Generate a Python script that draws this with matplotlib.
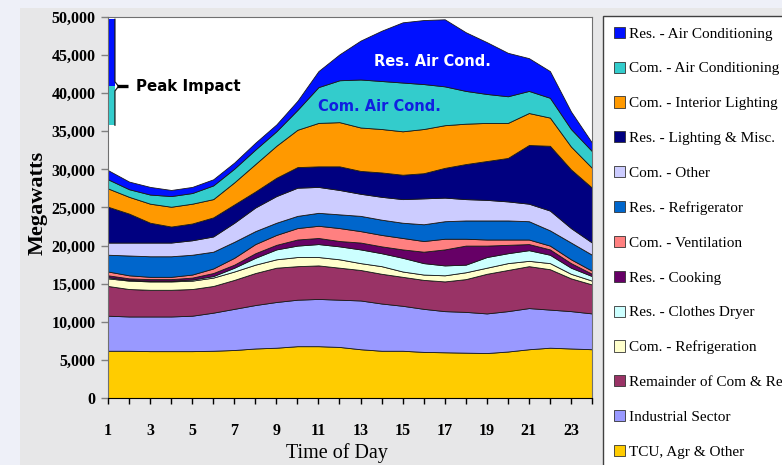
import matplotlib.pyplot as plt
from matplotlib.patches import Rectangle, Patch
import numpy as np

hours = list(range(1, 25))

# hourly load by end use, MW (stacked bottom to top)
tcu = [6200, 6200, 6150, 6150, 6150, 6200, 6300, 6500, 6600, 6800, 6800, 6700,
       6400, 6200, 6200, 6050, 6000, 5950, 5900, 6100, 6400, 6600, 6500, 6400]
industrial = [4600, 4500, 4550, 4550, 4650, 5000, 5400, 5700, 6000, 6100, 6200, 6200,
              6400, 6200, 5900, 5650, 5400, 5350, 5200, 5300, 5400, 5000, 4900, 4700]
remainder = [3900, 3600, 3500, 3500, 3500, 3500, 3800, 4200, 4500, 4400, 4400, 4200,
             4000, 3900, 3800, 3800, 3900, 4300, 5200, 5400, 5500, 5300, 4300, 3800]
com_refrig = [1000, 1100, 1100, 1100, 1100, 1100, 1100, 1100, 1100, 1200, 1100, 1100,
              900, 1000, 700, 700, 800, 900, 800, 900, 700, 800, 600, 500]
res_dryer = [150, 100, 100, 100, 150, 200, 500, 900, 1300, 1500, 1700, 1700,
             1800, 1700, 1800, 1500, 1300, 1000, 1400, 1300, 1400, 1100, 800, 600]
res_cooking = [250, 200, 200, 200, 250, 400, 400, 600, 600, 800, 800, 700,
               900, 900, 1100, 1500, 2100, 2500, 1500, 1100, 800, 700, 600, 300]
com_vent = [500, 400, 300, 300, 400, 600, 900, 1200, 1300, 1500, 1600, 1700,
            1500, 1500, 1500, 1400, 1400, 900, 800, 700, 600, 500, 500, 400]
res_refrig = [2200, 2600, 2700, 2700, 2600, 2200, 2100, 1700, 1600, 1600, 1700, 1800,
              2000, 2000, 2000, 2200, 2300, 2400, 2500, 2500, 2400, 2000, 2200, 2100]
com_other = [1600, 1700, 1800, 1800, 1900, 2000, 2500, 3100, 3500, 3700, 3400, 3200,
             2900, 3000, 3100, 3400, 3100, 2800, 2700, 2500, 2300, 2600, 1900, 1600]
res_lighting = [4700, 3800, 2600, 2100, 2200, 2500, 2400, 2100, 2400, 2700, 2700, 3100,
                3000, 3200, 3200, 3300, 3900, 4600, 5100, 5700, 7700, 8500, 7700, 7200]
com_lighting = [2400, 2200, 2500, 2600, 2600, 2400, 2900, 3600, 4200, 4900, 5700, 5800,
                5700, 5700, 5700, 5800, 5600, 5300, 5000, 4600, 4200, 3700, 3000, 2600]
com_ac = [1200, 1000, 1200, 1400, 1400, 1800, 1800, 1900, 1900, 2600, 4700, 5500,
          6300, 6300, 6400, 5900, 5100, 4300, 3800, 3500, 2900, 2600, 2300, 2200]
res_ac = [1200, 1000, 1000, 800, 800, 800, 800, 900, 900, 1200, 2100, 3400,
          5100, 6600, 7900, 8400, 8800, 7700, 6800, 5700, 4300, 3500, 2300, 1100]

labels = ["TCU, Agr & Other", "Industrial Sector", "Remainder of Com & Res",
          "Com. - Refrigeration", "Res. - Clothes Dryer", "Res. - Cooking",
          "Com. - Ventilation", "Res. - Refrigerator", "Com. - Other",
          "Res. - Lighting & Misc.", "Com. - Interior Lighting",
          "Com. - Air Conditioning", "Res. - Air Conditioning"]
colors = ["#ffcc00", "#9999ff", "#993366", "#ffffcc", "#ccffff", "#660066",
          "#ff8080", "#0066cc", "#ccccff", "#000080", "#ff9900", "#33cccc", "#0010ff"]
series = [tcu, industrial, remainder, com_refrig, res_dryer, res_cooking, com_vent,
          res_refrig, com_other, res_lighting, com_lighting, com_ac, res_ac]

fig = plt.figure(figsize=(7.82, 4.65), dpi=100)
fig.patch.set_facecolor("#eef0f8")
fig.patches.append(Rectangle((20 / 782, 0), 1, 1 - 8 / 465, transform=fig.transFigure,
                             facecolor="#e7e7e8", edgecolor="none", zorder=-5))

ax = fig.add_axes([108 / 782, 1 - 398 / 465, 484 / 782, 381 / 465], zorder=2)
ax.set_facecolor("white")
ax.stackplot(hours, series, colors=colors, edgecolor="#1a1a1a", linewidth=0.6)

# peak impact column: the air-conditioning share of the daily peak
total = np.sum(series, axis=0)
pk = int(np.argmax(total))
top = total[pk]
mid = top - res_ac[pk]
low = mid - com_ac[pk]
ax.bar(1.05, res_ac[pk], width=0.28, bottom=mid, align="edge", color="#0010ff", zorder=3)
ax.bar(1.05, com_ac[pk], width=0.28, bottom=low, align="edge", color="#33cccc", zorder=3)
ax.plot([1.33, 1.33, 1.5, 1.33, 1.33], [top, mid + 600, mid, mid - 600, low],
        color="#1a1a1a", lw=0.9, zorder=4)
ax.plot([1.45, 1.95], [mid, mid], color="black", lw=2.4, zorder=4, solid_capstyle="butt")
ax.text(2.35, mid, "Peak Impact", fontsize=10.8, fontweight="bold", family="DejaVu Sans",
        va="center", ha="left")

ax.text(16.4, 44200, "Res. Air Cond.", color="white", fontsize=10.5, fontweight="bold",
        family="DejaVu Sans", ha="center", va="center")
ax.text(13.9, 38300, "Com. Air Cond.", color="#1020e0", fontsize=10.5, fontweight="bold",
        family="DejaVu Sans", ha="center", va="center")

ax.set_xlim(1, 24)
ax.set_ylim(0, 50000)
ax.set_xticks(hours)
ax.set_xticklabels([str(h) if h % 2 else "" for h in hours])
ax.set_yticks(range(0, 50001, 5000))
ax.set_yticklabels([f"{v:,}" for v in range(0, 50001, 5000)])
for t in ax.get_xticklabels() + ax.get_yticklabels():
    t.set_family("Liberation Serif")
    t.set_fontweight("bold")
    t.set_fontsize(11.5)
ax.tick_params(axis="x", direction="out", length=4, width=1, colors="black", pad=14)
ax.tick_params(axis="y", direction="out", length=5, width=1, color="#808080",
               labelcolor="black", pad=4)
for side in ["top", "right", "left"]:
    ax.spines[side].set_color("#707070")
ax.spines["bottom"].set_color("black")

ax.set_ylabel("Megawatts", family="Liberation Serif", fontweight="bold", fontsize=16)
ax.yaxis.set_label_coords(-(108 - 48) / 484, (398 - 203) / 381)
ax.set_xlabel("Time of Day", family="Liberation Serif", fontsize=14.5)
ax.xaxis.set_label_coords((337 - 108) / 484, -(443 - 398) / 381)

handles = [Patch(facecolor=c, edgecolor="#333333", linewidth=0.6, label=l)
           for c, l in zip(colors, labels)][::-1]
leg = fig.legend(handles=handles, loc="upper left", bbox_to_anchor=(603 / 782, 1 - 16 / 465),
                 borderaxespad=0, frameon=True, fancybox=False, framealpha=1,
                 edgecolor="#404040", prop={"family": "Liberation Serif", "size": 11},
                 handlelength=0.75, handleheight=0.75, handletextpad=0.25,
                 labelspacing=1.37, borderpad=0.7)
leg.get_frame().set_linewidth(1.0)

fig.savefig("out.png", dpi=100, facecolor=fig.get_facecolor())
